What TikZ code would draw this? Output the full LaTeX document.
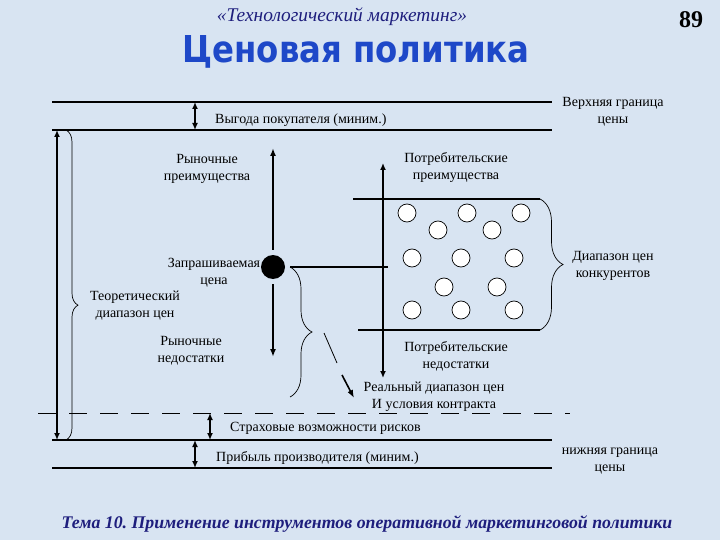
\documentclass[tikz,border=0pt]{standalone}
\usepackage{fontspec}
\setmainfont{Liberation Serif}
\newfontfamily\titlefont{DejaVu Sans}
\usetikzlibrary{arrows.meta,decorations.pathreplacing}
\definecolor{bgblue}{RGB}{216,228,242}
\definecolor{navy}{RGB}{30,30,125}
\definecolor{titleblue}{RGB}{30,72,200}
\tikzset{
  lbl/.style={font=\fontsize{14}{17}\selectfont, align=center, inner sep=0pt},
  bound/.style={line width=1.3pt},
  dbl/.style={{Latex[length=7pt,width=6pt]}-{Latex[length=7pt,width=6pt]}, line width=1.5pt},
  onearrow/.style={-{Latex[length=8pt,width=6pt]}, line width=1.8pt},
  brc/.style={decorate, decoration={brace, amplitude=#1}, line width=0.7pt},
  coin/.style={circle, draw, fill=white, minimum size=18pt, inner sep=0pt, line width=0.7pt}
}
\begin{document}
\begin{tikzpicture}[x=1pt,y=-1pt]
  \useasboundingbox (0,0) rectangle (720,540);
  \fill[bgblue] (0,0) rectangle (720,540);
  \node[font=\fontsize{19.4}{22}\selectfont\itshape, text=navy] (head) at (342,17) {«Технологический маркетинг»};
  \node[font=\fontsize{24}{26}\selectfont\bfseries] (page) at (691,20) {89};
  \node[text=titleblue, inner sep=0pt] (title) at (356,52) {\resizebox{347pt}{27pt}{\titlefont\bfseries Ценовая политика}};
  \foreach \y/\n in {102/top,130/buy,440/ins,468/low} {
    \coordinate (\n W) at (52,\y);
    \coordinate (\n E) at (552,\y);
    \draw[bound] (\n W) -- (\n E);
  }
  \draw[line width=1pt, dash pattern=on 18pt off 13pt] (38,413) coordinate (riskW) -- (570,413) coordinate (riskE);
  \node[lbl, anchor=west] (gain) at (215,120) {Выгода покупателя (миним.)};
  \node[lbl] (upper) at (613,112) {Верхняя граница\\цены};
  \node[lbl, anchor=west] (insur) at (230,428) {Страховые возможности рисков};
  \node[lbl, anchor=west] (profit) at (216,458) {Прибыль производителя (миним.)};
  \node[lbl] (lower) at (610,461) {нижняя граница\\цены};
  \draw[dbl] (195,102) -- (195,130);
  \draw[dbl] (210,413) -- (210,440);
  \draw[dbl] (195,440) -- (195,468);
  \draw[dbl, line width=1.8pt] (57,130) -- (57,440);
  \draw[brc=12, decoration={aspect=0.565}] (66,130) -- (66,440);
  \node[lbl] (theory) at (135,306) {Теоретический\\диапазон цен};
  \node[lbl] (mktplus) at (207,169) {Рыночные\\преимущества};
  \node[lbl] (asked) at (214,273) {Запрашиваемая\\цена};
  \node[lbl] (mktminus) at (191,351) {Рыночные\\недостатки};
  \node[circle, fill=black, minimum size=24pt, inner sep=0pt] (ask) at (273,267) {};
  \coordinate (askT) at (273,148);
  \coordinate (askB) at (273,357);
  \coordinate (askR) at (388,267);
  \draw[onearrow, shorten <=5pt] (ask) -- (askT);
  \draw[onearrow, shorten <=5pt] (ask) -- (askB);
  \draw[line width=1.1pt, shorten <=5pt] (ask) -- (askR);
  \draw[brc=22] (290,267) -- (290,397);
  \draw[line width=0.8pt] (324,333) -- (337,363);
  \draw[onearrow, line width=1.6pt] (342,375) -- (354,398);
  \coordinate (consT) at (383,163);
  \coordinate (consB) at (383,378);
  \draw[dbl, line width=1.3pt] (consT) -- (consB);
  \node[lbl] (consplus) at (456,168) {Потребительские\\преимущества};
  \node[lbl] (consminus) at (456,356) {Потребительские\\недостатки};
  \node[lbl] (real) at (434,397) {Реальный диапазон цен\\И условия контракта};
  \draw[line width=1.1pt] (353,199) -- (540,199);
  \draw[line width=1.1pt] (358,330) -- (540,330);
  \draw[brc=23] (540,199) -- (540,330);
  \node[lbl] (rivals) at (613,266) {Диапазон цен\\конкурентов};
  \foreach \x/\y [count=\i] in {407/213,467/213,521/213,438/230,492/230,412/258,461/258,514/258,444/287,497/287,412/310,461/310,514/310}
    \node[coin] (coin\i) at (\x,\y) {};
  \node[font=\fontsize{17.8}{21}\selectfont\bfseries\itshape, text=navy] (theme) at (367,524) {Тема 10.\ Применение инструментов оперативной маркетинговой политики};
\end{tikzpicture}
\end{document}
